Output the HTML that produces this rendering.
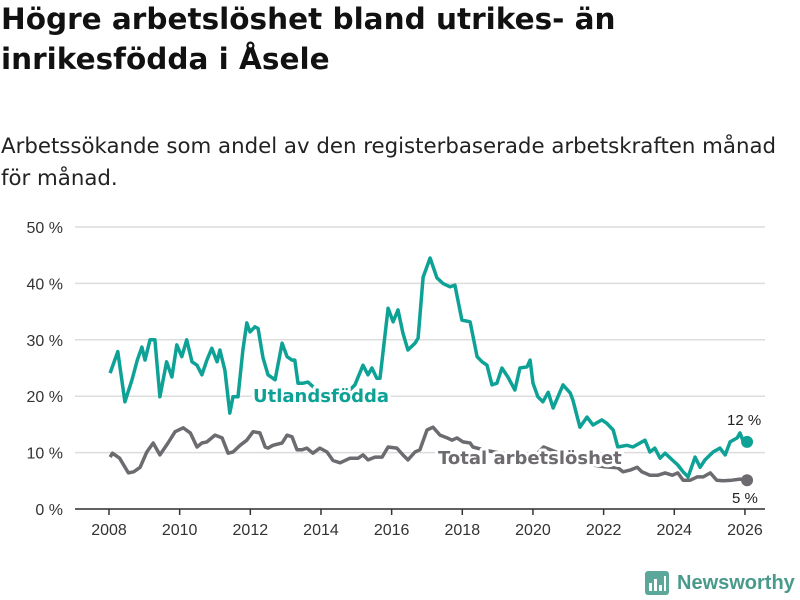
<!DOCTYPE html>
<html><head><meta charset="utf-8">
<style>
body{margin:0;background:#fff;width:800px;height:600px;overflow:hidden;font-family:"Liberation Sans",sans-serif;}
h1{position:absolute;left:1px;top:-1px;margin:0;font-family:"DejaVu Sans",sans-serif;font-size:29.5px;line-height:40px;font-weight:bold;color:#111;letter-spacing:0px;}
p.sub{position:absolute;left:1px;top:131px;margin:0;font-family:"DejaVu Sans",sans-serif;font-size:21.3px;line-height:32px;color:#222;}
</style></head><body>
<h1>Högre arbetslöshet bland utrikes- än<br>inrikesfödda i Åsele</h1>
<p class="sub">Arbetssökande som andel av den registerbaserade arbetskraften månad<br>för månad.</p>
<svg id="chart" width="800" height="600" style="position:absolute;left:0;top:0"></svg>
<script>
const yTicks=[0,10,20,30,40,50];
const xTicks=[2008,2010,2012,2014,2016,2018,2020,2022,2024,2026];
const utlT=[2008.03,2008.25,2008.45,2008.65,2008.8,2008.93,2009.02,2009.16,2009.3,2009.44,2009.63,2009.78,2009.92,2010.06,2010.2,2010.35,2010.49,2010.63,2010.77,2010.91,2011.06,2011.14,2011.28,2011.42,2011.51,2011.65,2011.79,2011.9,2011.99,2012.13,2012.22,2012.36,2012.5,2012.7,2012.9,2013.04,2013.18,2013.26,2013.35,2013.49,2013.63,2013.9,2014.2,2014.5,2014.8,2014.96,2015.19,2015.33,2015.44,2015.58,2015.67,2015.9,2016.04,2016.18,2016.32,2016.46,2016.66,2016.75,2016.89,2017.09,2017.28,2017.45,2017.65,2017.79,2017.99,2018.22,2018.42,2018.56,2018.7,2018.84,2018.98,2019.12,2019.29,2019.49,2019.63,2019.83,2019.92,2020.0,2020.14,2020.28,2020.43,2020.57,2020.85,2021.05,2021.13,2021.33,2021.53,2021.7,2021.95,2022.09,2022.27,2022.4,2022.66,2022.83,2023.03,2023.17,2023.31,2023.45,2023.6,2023.74,2023.94,2024.1,2024.25,2024.39,2024.59,2024.73,2024.87,2025.1,2025.29,2025.44,2025.58,2025.78,2025.86,2025.94,2026.06];
const utlV=[24.1,27.9,19,22.9,26.4,28.7,26.4,30,30,19.9,26.1,23.4,29.1,27,30,26.1,25.5,23.8,26.4,28.5,26.1,28.2,24.6,17,19.9,19.9,28.2,33,31.4,32.3,32,26.8,23.8,22.9,29.4,27,26.4,26.4,22.3,22.3,22.5,21,20,19.5,21,22,25.5,23.8,25,23.2,23.2,35.6,33.2,35.3,31.2,28.2,29.4,30.3,41.1,44.5,41,40,39.4,39.7,33.5,33.2,27,26.1,25.5,22,22.3,25,23.4,21.1,25,25.2,26.4,22.3,19.9,19,20.7,17.9,22,20.6,19.3,14.5,16.3,14.9,15.8,15.2,14,11,11.3,11,11.7,12.2,10.1,10.8,9,9.9,8.7,7.8,6.6,5.7,9.2,7.4,8.7,10.1,10.8,9.6,11.9,12.6,13.5,12.2,11.9];
const totT=[2008.03,2008.1,2008.3,2008.55,2008.7,2008.88,2009.07,2009.25,2009.44,2009.67,2009.87,2010.1,2010.3,2010.49,2010.63,2010.77,2011.0,2011.2,2011.37,2011.51,2011.71,2011.9,2012.08,2012.27,2012.42,2012.5,2012.64,2012.9,2013.04,2013.18,2013.32,2013.46,2013.6,2013.77,2013.97,2014.17,2014.34,2014.54,2014.82,2015.05,2015.19,2015.33,2015.53,2015.73,2015.9,2016.15,2016.32,2016.46,2016.66,2016.8,2017.0,2017.17,2017.37,2017.57,2017.71,2017.85,2018.02,2018.22,2018.3,2018.6,2019.0,2019.5,2020.0,2020.3,2020.7,2021.0,2021.5,2022.0,2022.4,2022.55,2022.75,2022.95,2023.08,2023.31,2023.54,2023.74,2023.94,2024.1,2024.25,2024.45,2024.65,2024.82,2025.02,2025.2,2025.38,2025.63,2025.86,2026.06];
const totV=[9.2,9.9,9,6.4,6.6,7.4,10.1,11.7,9.6,11.7,13.7,14.4,13.5,11,11.7,11.9,13.1,12.6,9.9,10.1,11.3,12.2,13.7,13.5,11,10.8,11.3,11.7,13.1,12.8,10.5,10.5,10.8,9.9,10.8,10.1,8.6,8.2,9,9,9.6,8.7,9.2,9.2,11,10.8,9.6,8.7,10.1,10.5,14,14.5,13.1,12.6,12.2,12.6,11.9,11.7,11,10.5,10,9.5,9,11,10,9.5,8,7.5,7.3,6.6,6.9,7.4,6.6,6,6,6.4,6,6.4,5.1,5.1,5.7,5.7,6.4,5.1,5,5.1,5.3,5.1];
const svg=document.getElementById('chart');
const NS='http://www.w3.org/2000/svg';
const X=t=>109+(t-2008)*35.33;
const Y=v=>509-v*5.64;
function mk(tag,at,parent){const e=document.createElementNS(NS,tag);for(const k in at)e.setAttribute(k,at[k]);(parent||svg).appendChild(e);return e;}
yTicks.forEach(v=>{
  const g=mk('line',{x1:75,x2:765,y1:Y(v),y2:Y(v),stroke:'#dcdcdc','stroke-width':1.5});
  
  
  const t=mk('text',{x:63,y:Y(v)+6,'text-anchor':'end','font-size':16,fill:'#333'});
  t.textContent=v+' %';
  
  
});
const ax=mk('line',{x1:75,x2:765,y1:509,y2:509,stroke:'#333','stroke-width':1.5});


xTicks.forEach(v=>{
  const l=mk('line',{x1:X(v),x2:X(v),y1:509,y2:515,stroke:'#333','stroke-width':1.5});
  
  
  const t=mk('text',{x:X(v),y:535,'text-anchor':'middle','font-size':16,fill:'#333'});
  t.textContent=v;
  
  
});
function line(ts,vs,color,name){
  const d=ts.map((t,i)=>(i?'L':'M')+X(t).toFixed(1)+','+Y(vs[i]).toFixed(1)).join('');
  const p=mk('path',{d:d,fill:'none',stroke:color,'stroke-width':3.5,'stroke-linejoin':'round'});
  
  
  const n=ts.length-1;
  const c=mk('circle',{cx:X(ts[n]),cy:Y(vs[n]),r:6,fill:color});
  
  
}
line(totT,totV,'#6d6b70','total-line');
line(utlT,utlV,'#0ea296','utlandsfodda-line');
function lab(x,y,txt,color,name,size,bold){
  const t=mk('text',{x:x,y:y,'font-size':size,'font-weight':bold?'bold':'normal',fill:color,stroke:'#fff','stroke-width':bold?6:4,'paint-order':'stroke','stroke-linejoin':'round','font-family':bold?'DejaVu Sans, sans-serif':'Liberation Sans, sans-serif'});
  t.textContent=txt;
  
  
}
lab(253,402,'Utlandsfödda','#0ea296','utlandsfodda-label',18,true);
lab(438,464,'Total arbetslöshet','#6d6b70','total-label',18,true);
lab(727,425,'12 %','#222','utlandsfodda-end-value',15,false);
lab(732,503,'5 %','#222','total-end-value',15,false);
</script>
<div style="position:absolute;left:645px;top:570px;height:26px;display:flex;align-items:center;">
  <svg width="24" height="24"><rect x="0" y="0" width="24" height="24" rx="3" fill="#5ba89a"/><rect x="4" y="12" width="3" height="8" fill="#fff"/><rect x="9" y="8" width="3" height="12" fill="#fff"/><rect x="14" y="14" width="3" height="6" fill="#fff"/><rect x="19" y="5" width="2" height="15" fill="#fff"/></svg>
  <span style="margin-left:8px;font-size:20px;font-weight:bold;color:#4a9a8c">Newsworthy</span>
</div>
</body></html>
